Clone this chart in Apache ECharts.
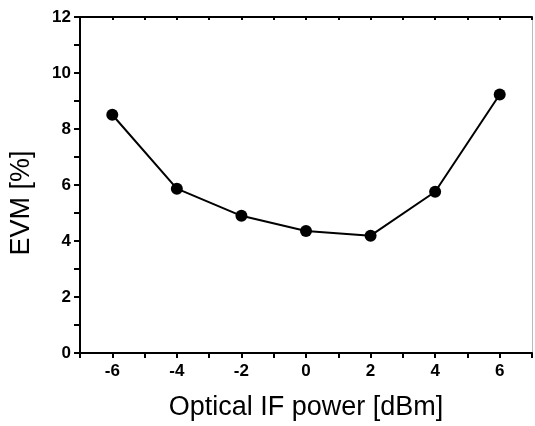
<!DOCTYPE html>
<html>
<head>
<meta charset="utf-8">
<script src="https://cdn.jsdelivr.net/npm/echarts@6/dist/echarts.min.js"></script>
<style>html,body{margin:0;padding:0;background:#fff}#c{width:535px;height:426px}</style>
</head>
<body>
<div id="c"></div>
<script>
const powers = [-6, -4, -2, 0, 2, 4, 6];
const evm = [8.51, 5.87, 4.9, 4.36, 4.19, 5.76, 9.23];
const xTicks = [-6, -4, -2, 0, 2, 4, 6];
const yTicks = [0, 2, 4, 6, 8, 10, 12];

const chart = echarts.init(document.getElementById('c'));
const lblFont = {color:'#000', fontFamily:'Liberation Sans, Arial, sans-serif', fontWeight:'bold', fontSize:17};
const titleFont = {color:'#000', fontFamily:'Liberation Sans, Arial, sans-serif', fontSize:27};
chart.setOption({
  animation:false,
  backgroundColor:'#fff',
  grid:{left:79, top:17, width:455, height:337},
  xAxis:[{
    type:'value', min:-7, max:7, interval:1,
    name:'Optical IF power [dBm]', nameLocation:'middle', nameGap:41,
    nameTextStyle:titleFont,
    axisLine:{show:true, onZero:false, lineStyle:{color:'#000', width:2}},
    axisTick:{show:true, inside:false, length:5, lineStyle:{color:'#000', width:2}},
    splitLine:{show:false},
    axisLabel:Object.assign({margin:10, formatter:v=>xTicks.indexOf(v)>=0?String(v):''}, lblFont)
  },{
    type:'value', position:'top', min:-7, max:7, interval:1,
    axisLine:{show:true, onZero:false, lineStyle:{color:'#000', width:2}},
    axisTick:{show:true, inside:true, length:3, lineStyle:{color:'#000', width:2}},
    axisLabel:{show:false}, splitLine:{show:false}
  }],
  yAxis:[{
    type:'value', min:0, max:12, interval:1,
    name:'EVM [%]', nameLocation:'middle', nameGap:45, nameRotate:90,
    nameTextStyle:Object.assign({padding:[0,36,0,0]}, titleFont),
    axisLine:{show:true, onZero:false, lineStyle:{color:'#000', width:2}},
    axisTick:{show:true, inside:false, length:6, lineStyle:{color:'#000', width:2}},
    splitLine:{show:false},
    axisLabel:Object.assign({margin:9, formatter:v=>yTicks.indexOf(v)>=0?String(v):''}, lblFont)
  },{
    type:'value', position:'right', min:0, max:12, interval:1,
    axisLine:{show:true, onZero:false, lineStyle:{color:'#bbb', width:1}},
    axisTick:{show:false}, axisLabel:{show:false}, splitLine:{show:false}
  }],
  series:[{
    type:'line',
    data:powers.map((p,i)=>[p, evm[i]]),
    symbol:'circle', symbolSize:12,
    lineStyle:{color:'#000', width:2},
    itemStyle:{color:'#000'}
  }]
});
</script>
</body>
</html>
